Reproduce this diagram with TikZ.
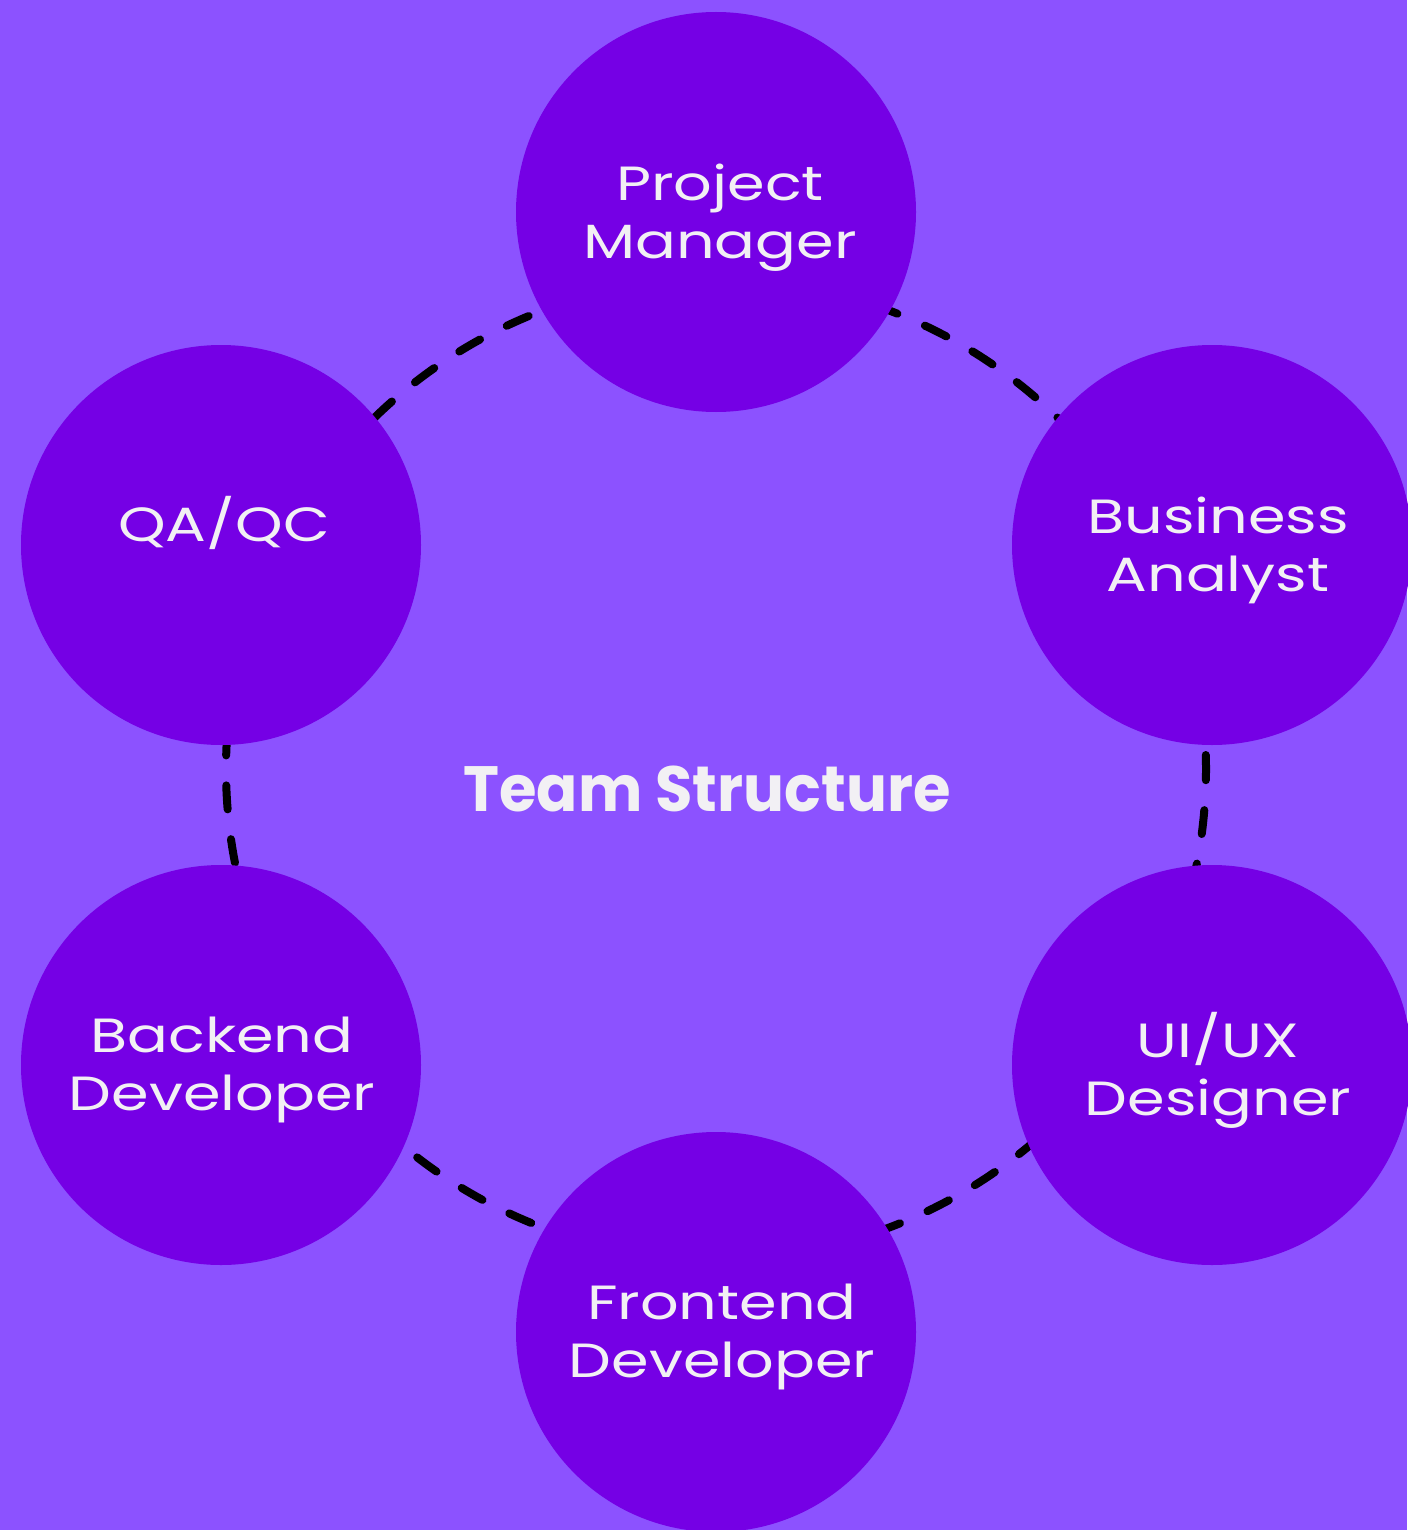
\documentclass[tikz,border=0pt]{standalone}
\usepackage{fontspec}
\setmainfont{Poppins}
\newfontfamily\rolefont[FakeStretch=1.26]{Poppins}
\newfontfamily\titlefont{Poppins}[UprightFont=* Bold, FakeStretch=0.95]
\definecolor{bgpurple}{HTML}{8C52FF}
\definecolor{rolepurple}{HTML}{7500E5}
\definecolor{labelwhite}{HTML}{F2F0F4}
\tikzset{
  rolecircle/.style={circle, fill=rolepurple, minimum size=400pt, inner sep=0pt},
  roletext/.style={text=labelwhite, align=center, font=\rolefont\fontsize{48}{58}\selectfont},
  ring/.style={draw=black, line width=8pt, line cap=round, dash pattern=on 24pt off 30pt, dash phase=10pt},
}
\begin{document}
\begin{tikzpicture}[x=1pt, y=-1pt]
\fill[bgpurple] (0,0) rectangle (1407,1530);
\useasboundingbox (0,0) rectangle (1407,1530);
\coordinate (ringc) at (716,769);
\draw[ring] (ringc) circle (490pt);
\node[rolecircle] (pm) at (716,212) {};
\node[rolecircle] (ba) at (1212,545) {};
\node[rolecircle] (ux) at (1212,1065) {};
\node[rolecircle] (fe) at (716,1332) {};
\node[rolecircle] (be) at (221,1065) {};
\node[rolecircle] (qa) at (221,545) {};
\node[roletext] (pmt) at (720,218) {Project\\Manager};
\node[roletext] (bat) at (1218,550) {Business\\Analyst};
\node[roletext] (uxt) at (1218,1070) {UI/UX\\Designer};
\node[roletext] (fet) at (722,1337) {Frontend\\Developer};
\node[roletext] (bet) at (222,1070) {Backend\\Developer};
\node[roletext] (qat) at (224,523) {QA/QC};
\node[text=labelwhite, font=\titlefont\fontsize{64}{76}\selectfont] (title) at (707,789) {Team Structure};
\end{tikzpicture}
\end{document}
